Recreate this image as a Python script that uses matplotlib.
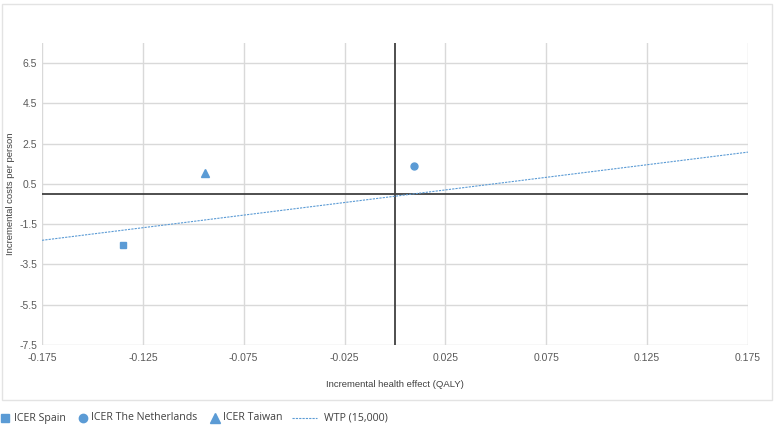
import matplotlib.pyplot as plt
from matplotlib.patches import Rectangle
from matplotlib.lines import Line2D

# ICER points (incremental QALY, incremental cost)
spain_x = [-0.135]
spain_y = [-2.55]
nl_x = [0.0095]
nl_y = [1.4]
taiwan_x = [-0.094]
taiwan_y = [1.02]

# willingness-to-pay threshold line (15,000)
wtp_x = [-0.175, 0.175]
wtp_y = [-2.3, 2.08]

x_ticks = [-0.175, -0.125, -0.075, -0.025, 0.025, 0.075, 0.125, 0.175]
y_ticks = [-7.5, -5.5, -3.5, -1.5, 0.5, 2.5, 4.5, 6.5]

series_labels = ['ICER Spain', 'ICER The Netherlands', 'ICER Taiwan', 'WTP (15,000)']

blue = '#5B9BD5'
grid_col = '#D9D9D9'
text_col = '#595959'
W, H = 778, 428

plt.rcParams['font.family'] = ['Liberation Sans', 'DejaVu Sans']

fig = plt.figure(figsize=(W / 100, H / 100), dpi=100)
ax = fig.add_axes([42 / W, 1 - 345 / H, (748 - 42) / W, (345 - 43) / H])

# outer chart border
fig.patches.append(Rectangle((2 / W, 1 - 400 / H), 770 / W, 396 / H,
                             transform=fig.transFigure, fill=False,
                             edgecolor='#E3E3E3', linewidth=1.0))

ax.set_xlim(-0.175, 0.175)
ax.set_ylim(-7.5, 7.5)
ax.set_xticks(x_ticks)
ax.set_yticks(y_ticks)
ax.set_xticklabels([f'{v:.3f}' for v in x_ticks])
ax.set_yticklabels([f'{v:.1f}' for v in y_ticks])
ax.grid(True, color=grid_col, linewidth=1.0)
ax.set_axisbelow(True)
for s in ax.spines.values():
    s.set_visible(False)
ax.tick_params(length=0, labelsize=7.5, colors=text_col)
ax.tick_params(axis='x', pad=6)
ax.tick_params(axis='y', pad=3.5)

ax.axhline(0, color='#404040', linewidth=1.3, zorder=2)
ax.axvline(0, color='#404040', linewidth=1.3, zorder=2)

dash = (0, (2, 1))
ax.plot(wtp_x, wtp_y, color=blue, linestyle=dash, linewidth=0.8, zorder=3)
ax.plot(spain_x, spain_y, 's', color=blue, ms=5, zorder=4)
ax.plot(nl_x, nl_y, 'o', color=blue, ms=5, zorder=4)
ax.plot(taiwan_x, taiwan_y, '^', color=blue, ms=6, zorder=4)

ax.set_xlabel('Incremental health effect (QALY)', fontsize=6.8, color='#404040', labelpad=12)
ax.set_ylabel('Incremental costs per person', fontsize=6.8, color='#404040')
ax.yaxis.set_label_coords(-0.038, 0.5)

# legend drawn by hand below the chart box (pixel positions)
leg_y = 1 - 418 / H
legend_font = {'family': 'Open Sans', 'size': 7.6}
markers = [('s', 6), ('o', 6), ('^', 7)]
marker_px = [5, 83, 215]
text_px = [14, 91, 223, 324]
for (m, size), mx in zip(markers, marker_px):
    fig.add_artist(Line2D([mx / W], [leg_y], marker=m, color=blue, ms=size,
                          linestyle='none', transform=fig.transFigure))
fig.add_artist(Line2D([292 / W, 317 / W], [leg_y, leg_y], color=blue, linestyle=dash,
                      linewidth=0.8, transform=fig.transFigure))
for label, tx in zip(series_labels, text_px):
    fig.text(tx / W, leg_y, label, va='center', ha='left', color='#404040', fontdict=legend_font)

fig.savefig('out.png', dpi=100)
